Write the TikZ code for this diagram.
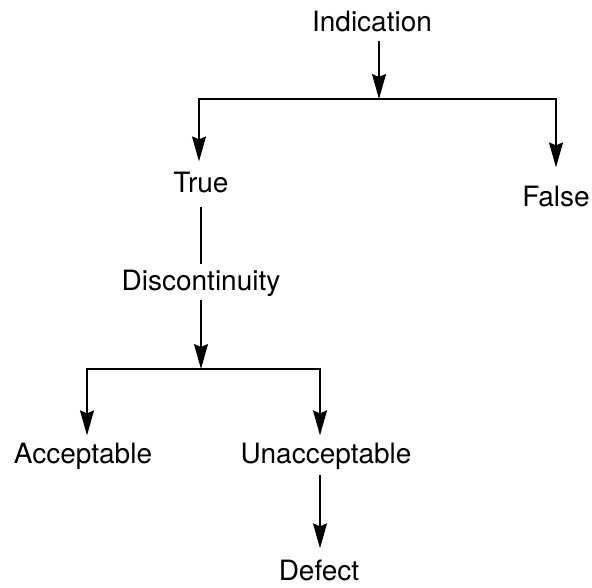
\documentclass[tikz,border=0pt]{standalone}
\usepackage{fontspec}
\setmainfont{TeX Gyre Heros}
\usetikzlibrary{arrows.meta}
\tikzset{
  lbl/.style={font=\fontsize{28}{31}\selectfont, inner sep=0pt, anchor=base},
  conn/.style={line width=1.2pt, black},
  arr/.style={conn, -{Stealth[length=25pt,width=14pt,inset=3pt]}}
}
\begin{document}
\begin{tikzpicture}[x=1pt,y=-1pt]
\useasboundingbox (0,0) rectangle (592,587);
\node[lbl] (ind) at (372,31) {Indication};
\node[lbl] (true) at (201,192) {True};
\node[lbl] (false) at (556,206) {False};
\node[lbl] (disc) at (201,290) {Discontinuity};
\node[lbl] (acc) at (83,463) {Acceptable};
\node[lbl] (unacc) at (326,463) {Unacceptable};
\node[lbl] (defect) at (319,580) {Defect};
\coordinate (j1) at (379,99);
\coordinate (j2) at (201,369);
\draw[arr] (j1 |- ind.south) ++(0,9) -- (j1);
\draw[arr] (j1) -| ([xshift=-2pt,yshift=10pt]true.north);
\draw[arr] (j1) -| ([yshift=18pt]false.north);
\draw[conn] ([yshift=-14pt]true.south) -- ([yshift=5pt]disc.north);
\draw[arr] ([yshift=-4pt]disc.south) -- (j2);
\draw[arr] (j2) -| ([xshift=4pt,yshift=7pt]acc.north);
\draw[arr] (j2) -| ([xshift=-6pt,yshift=7pt]unacc.north);
\draw[arr] ([xshift=-6pt,yshift=-6pt]unacc.south) -- ([xshift=1pt,yshift=11pt]defect.north);
\end{tikzpicture}
\end{document}
